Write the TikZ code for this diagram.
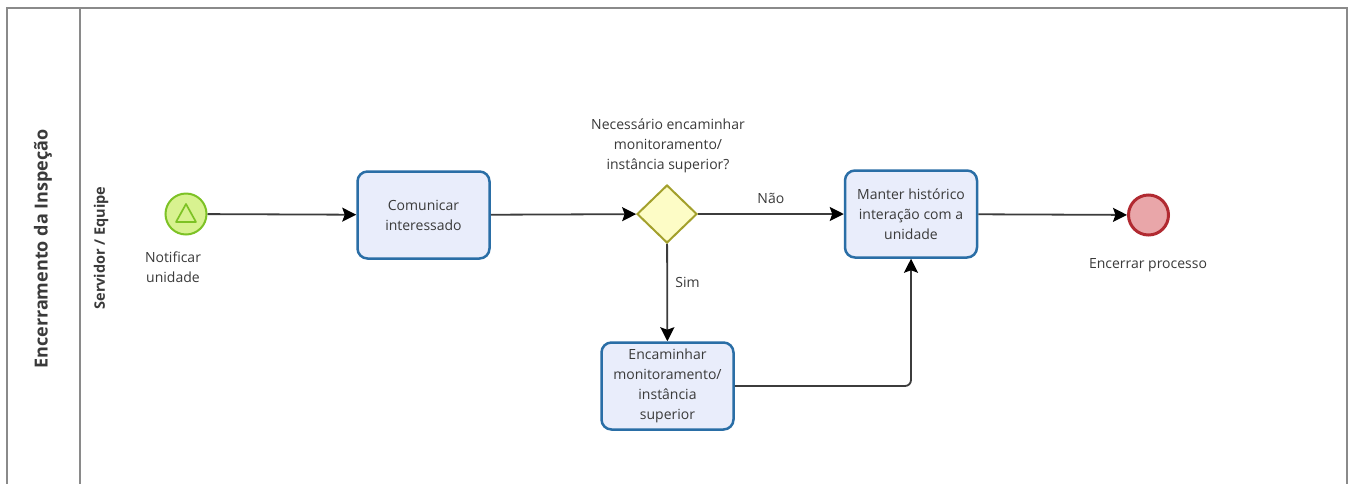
\documentclass[tikz,border=0pt]{standalone}
\usepackage{fontspec}
\setmainfont{Open Sans}
\usetikzlibrary{arrows.meta,shapes.geometric}
\definecolor{txt}{HTML}{3A3A3A}
\definecolor{poolline}{HTML}{8A8A8A}
\definecolor{taskfill}{HTML}{E9EDFB}
\definecolor{taskline}{HTML}{2A6EA6}
\definecolor{startfill}{HTML}{D8F290}
\definecolor{startline}{HTML}{7DC225}
\definecolor{gatefill}{HTML}{FDFCC6}
\definecolor{gateline}{HTML}{A3A02C}
\definecolor{endfill}{HTML}{E9A6A9}
\definecolor{endline}{HTML}{B12A31}
\definecolor{flow}{HTML}{3C3C3C}
\tikzset{
  pool/.style={draw=poolline, line width=2pt},
  label text/.style={text=txt, font=\fontsize{14}{20}\selectfont, align=center},
  task/.style={label text, draw=taskline, fill=taskfill, line width=2.5pt,
    rounded corners=10pt, minimum width=132pt, minimum height=87pt, inner sep=2pt},
  startevt/.style={circle, draw=startline, fill=startfill, line width=2pt, minimum size=41pt, inner sep=0pt},
  endevt/.style={circle, draw=endline, fill=endfill, line width=3pt, minimum size=40pt, inner sep=0pt},
  gate/.style={diamond, draw=gateline, fill=gatefill, line width=2pt, minimum width=60pt, minimum height=58pt, inner sep=0pt, aspect=1},
  flowline/.style={draw=flow, line width=1.8pt, -{Stealth[length=14pt,width=14pt,inset=2.5pt,color=black]}},
}
\begin{document}
\begin{tikzpicture}[x=1pt,y=-1pt]
\useasboundingbox (0,0) rectangle (1349,483);
\fill[white] (0,0) rectangle (1349,483);

% pool and lane frame
\draw[pool] (7,490) -- (7,8) -- (1347,8) -- (1347,490);
\draw[pool] (80,8) -- (80,490);
\node[rotate=90, text=txt, font=\bfseries\fontsize{18}{20}\selectfont] (pooltitle) at (43,249) {Encerramento da Inspeção};
\node[rotate=90, text=txt, font=\bfseries\fontsize{14.5}{16}\selectfont] (lanetitle) at (101,248) {Servidor / Equipe};

% flow elements
\node[startevt] (start) at (186,214) {};
\draw[startline, line width=1.7pt, line join=round] ([shift={(0,-10)}]start.center) -- ([shift={(10,8)}]start.center) -- ([shift={(-10,8)}]start.center) -- cycle;
\node[label text] (startlbl) at (173,267) {Notificar\\unidade};

\node[task] (com) at (423.5,215) {Comunicar\\interessado};

\node[gate] (gw) at (667,214) {};
\node[label text] (gwlbl) at (668,146) {Necessário encaminhar\\monitoramento/\\instância superior?};

\node[task] (man) at (911,214) {Manter histórico\\interação com a\\unidade};

\node[task] (enc) at (667.5,386) {Encaminhar\\monitoramento/\\instância\\superior};

\node[endevt] (end) at (1148.5,215) {};
\node[label text] (endlbl) at (1148,265) {Encerrar processo};

% sequence flows
\draw[flowline] (start) -- (com);
\draw[flowline] (com) -- (gw);
\draw[flowline] (gw) -- node[label text, above=6pt] (nao) {Não} (man);
\draw[flowline] (gw) -- node[label text, right=4pt, pos=0.4] (sim) {Sim} (enc);
\draw[flowline, rounded corners=6pt] (enc.east) -| (man.south);
\draw[flowline] (man) -- (end);
\end{tikzpicture}
\end{document}
